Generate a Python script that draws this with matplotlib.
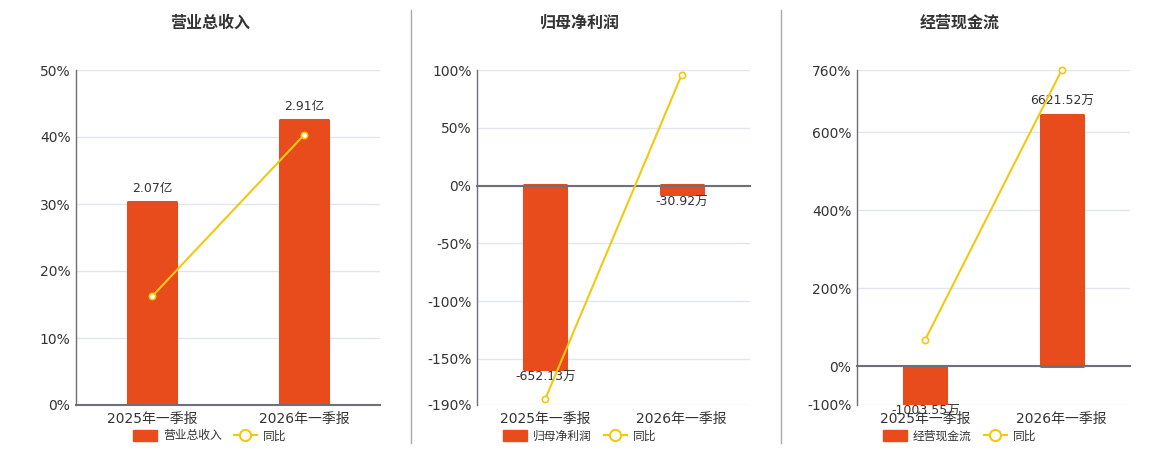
import numpy as np
import matplotlib
matplotlib.use("Agg")
import matplotlib.pyplot as plt
from matplotlib.patches import Patch
from matplotlib.lines import Line2D

plt.rcParams['font.family'] = ['DejaVu Sans', 'Noto Sans CJK SC']

# data
categories = ['2025年一季报', '2026年一季报']
titles = ['营业总收入', '归母净利润', '经营现金流']

revenue = [2.07, 2.91]            # 亿
revenue_labels = ['2.07亿', '2.91亿']
revenue_yoy = [16.2, 40.3]        # %

profit = [-652.13, -30.92]        # 万
profit_labels = ['-652.13万', '-30.92万']
profit_yoy = [-184.9, 96.0]

cashflow = [-1003.55, 6621.52]    # 万
cashflow_labels = ['-1003.55万', '6621.52万']
cashflow_yoy = [68.0, 760.0]

pct_ticks = [
    [0, 10, 20, 30, 40, 50],
    [100, 50, 0, -50, -100, -150, -190],
    [760, 600, 400, 200, 0, -100],
]

BAR = '#e84c1c'
LINE = '#f2c811'
AXIS = '#6e7079'
GRID = '#e0e6f1'
TEXT = '#333333'

fig = plt.figure(figsize=(11.6, 4.5), dpi=100)

W, H = 1160, 450
# axes boxes in pixels: left, right, top, bottom
boxes = [(76, 380, 70, 405), (477, 750, 70, 405), (857, 1130, 70, 405)]
centers = [210, 580, 960]
bar_lims = [(0, 3.42), (-780, 410), (-1038, 7810)]

panels = [
    (revenue, revenue_labels, revenue_yoy),
    (profit, profit_labels, profit_yoy),
    (cashflow, cashflow_labels, cashflow_yoy),
]

x = np.arange(len(categories))

for i, (vals, labels, yoy) in enumerate(panels):
    l, r, t, b = boxes[i]
    ax = fig.add_axes([l / W, 1 - b / H, (r - l) / W, (b - t) / H])
    ticks = pct_ticks[i]
    ylim = (min(ticks), max(ticks))

    ax.set_xlim(-0.5, 1.5)
    ax.set_ylim(*ylim)
    ax.set_yticks(ticks)
    ax.set_yticklabels([f'{v}%' for v in ticks])
    ax.set_xticks(x)
    ax.set_xticklabels(categories)
    ax.set_xticks([-0.5, 0.5, 1.5], minor=True)
    ax.tick_params(axis='y', length=0, pad=4, labelsize=10, labelcolor=TEXT)
    ax.tick_params(axis='x', which='major', length=0, pad=5, labelsize=10, labelcolor=TEXT)
    ax.tick_params(axis='x', which='minor', length=0)
    ax.grid(axis='y', color=GRID, lw=1)
    ax.set_axisbelow(True)
    for s in ['top', 'right', 'bottom']:
        ax.spines[s].set_visible(False)
    ax.spines['left'].set_color(AXIS)
    ax.spines['left'].set_linewidth(1)

    # bars on hidden value axis
    ax2 = ax.twinx()
    ax2.set_ylim(*bar_lims[i])
    ax2.axis('off')
    ax2.bar(x, vals, width=0.31, color=BAR, edgecolor=BAR,
            linewidth=2.2, joinstyle='round')
    for xi, v, lab in zip(x, vals, labels):
        if v >= 0:
            ax2.annotate(lab, (xi, v), xytext=(0, 5), textcoords='offset points',
                         ha='center', va='bottom', fontsize=9, color=TEXT)
        else:
            ax2.annotate(lab, (xi, v), xytext=(0, -1), textcoords='offset points',
                         ha='center', va='top', fontsize=9, color=TEXT)

    # yoy line + zero axis line on top
    ax3 = ax.twinx()
    ax3.set_ylim(*ylim)
    for s in ['top', 'right', 'left']:
        ax3.spines[s].set_visible(False)
    ax3.spines['bottom'].set_position(('data', 0))
    ax3.spines['bottom'].set_color(AXIS)
    ax3.spines['bottom'].set_linewidth(1.5)
    ax3.set_yticks([])
    ax3.tick_params(axis='x', which='major', length=0, labelbottom=False)
    ax3.tick_params(axis='x', which='minor', length=4, width=1, color=AXIS, direction='out')
    ax3.plot(x, yoy, color=LINE, lw=1.5, marker='o', markersize=4.5,
             mfc='white', mec=LINE, mew=1.2, zorder=5, clip_on=False)

    fig.text(centers[i] / W, 1 - 23 / H, titles[i], ha='center', va='center',
             fontsize=11.5, fontweight='bold', color=TEXT)

    handles = [Patch(facecolor=BAR, edgecolor=BAR),
               Line2D([], [], color=LINE, lw=1.5, marker='o', markersize=8,
                      mfc='white', mec=LINE, mew=1.5)]
    ax3.legend(handles, [titles[i], '同比'], loc='center',
               bbox_to_anchor=(centers[i] / W, 1 - 436 / H),
               bbox_transform=fig.transFigure, ncol=2, frameon=False,
               fontsize=8.5, labelcolor=TEXT, handlelength=2.0, handleheight=1.0,
               handletextpad=0.5, columnspacing=1.0, borderpad=0)

# separators
for sx in [410.5, 781]:
    fig.add_artist(Line2D([sx / W, sx / W], [1 - 10 / H, 1 - 443 / H],
                          color='#aaaaaa', lw=1))

fig.savefig('out.png', dpi=100)
